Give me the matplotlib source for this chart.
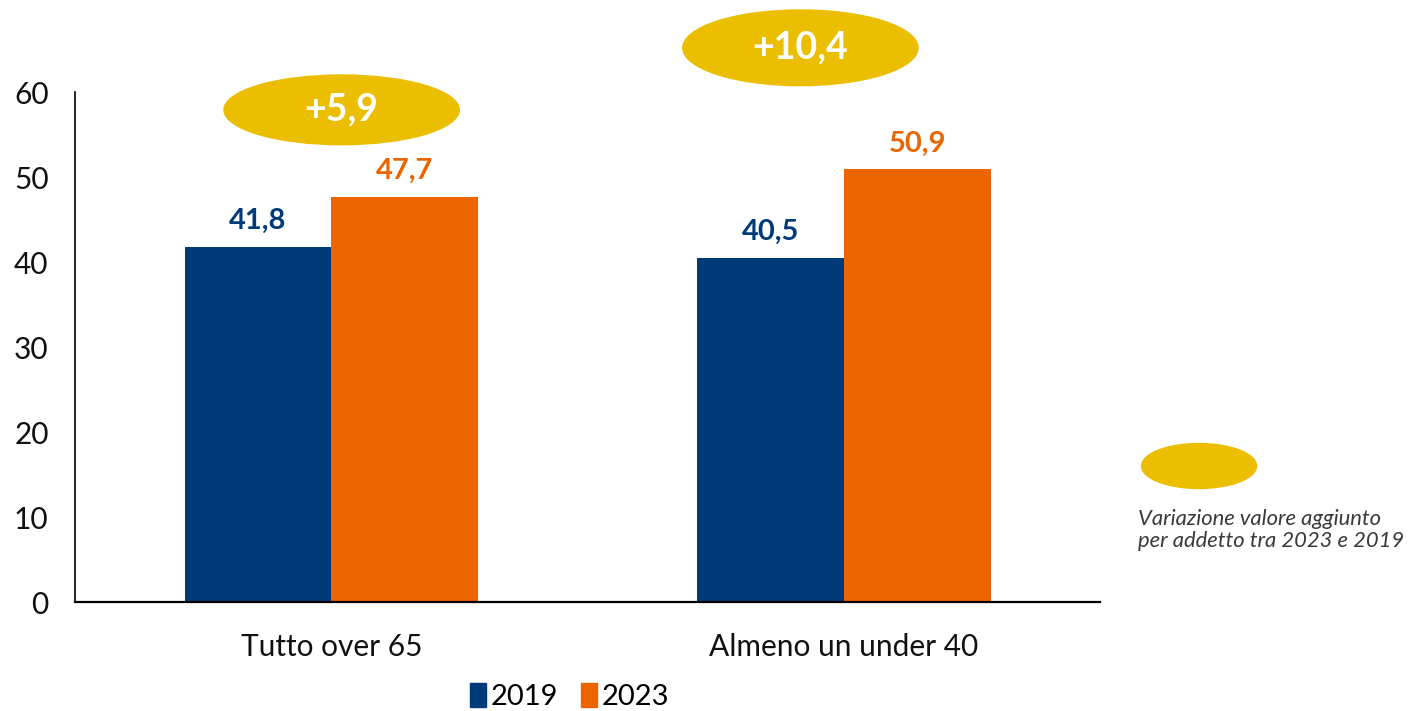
import numpy as np
import matplotlib.pyplot as plt
from matplotlib.patches import Ellipse, Patch

plt.rcParams['font.family'] = ['Lato', 'DejaVu Sans']

categorie = ['Tutto over 65', 'Almeno un under 40']
anni = ['2019', '2023']
val_2019 = [41.8, 40.5]
val_2023 = [47.7, 50.9]
variazioni = ['+5,9', '+10,4']
yticks = [0, 10, 20, 30, 40, 50, 60]

blu = '#003A78'
arancio = '#EC6500'
giallo = '#EBBE00'

fig = plt.figure(figsize=(14.24, 7.11), dpi=100)
ax = fig.add_axes([0.0527, 0.1533, 0.72, 0.7173])

x = np.arange(len(categorie))
w = 0.286
b1 = ax.bar(x - w/2, val_2019, w, color=blu, label=anni[0])
b2 = ax.bar(x + w/2, val_2023, w, color=arancio, label=anni[1])

for xi, v in zip(x - w/2, val_2019):
    ax.text(xi, v + 1.5, ('%.1f' % v).replace('.', ','), ha='center', va='bottom',
            fontsize=21, fontweight='bold', color=blu)
for xi, v in zip(x + w/2, val_2023):
    ax.text(xi, v + 1.5, ('%.1f' % v).replace('.', ','), ha='center', va='bottom',
            fontsize=21, fontweight='bold', color=arancio)

# ellissi con la variazione
pos_ell = [(0.02, 57.9, 8.2), (0.915, 65.2, 8.9)]
for (ex, ey, eh), lab in zip(pos_ell, variazioni):
    e = Ellipse((ex, ey), 0.459, eh, color=giallo, clip_on=False, zorder=3)
    ax.add_patch(e)
    ax.text(ex, ey, lab, ha='center', va='center', fontsize=27, fontweight='bold',
            color='white', zorder=4)

ax.set_xlim(-0.5, 1.5)
ax.set_ylim(0, 60)
ax.set_yticks(yticks)
ax.set_xticks(x)
ax.set_xticklabels(categorie)
ax.tick_params(axis='both', length=0, labelsize=21.5, colors='#111111')
ax.tick_params(axis='x', pad=22)
ax.tick_params(axis='y', pad=19)
for s in ['top', 'right']:
    ax.spines[s].set_visible(False)
ax.spines['left'].set_linewidth(1.2)
ax.spines['bottom'].set_linewidth(1.6)

# legenda anni
handles = [Patch(color=blu, label=anni[0]), Patch(color=arancio, label=anni[1])]
fig.legend(handles=handles, loc='center', bbox_to_anchor=(0.40, 0.02), ncol=2,
           frameon=False, fontsize=21, handlelength=0.55, handleheight=0.9,
           handletextpad=0.15, columnspacing=0.8)

# legenda ellisse
fig.patches.append(Ellipse((1199/1424, 1 - 466/711), 115/1424, 45/711, color=giallo,
                           transform=fig.transFigure, figure=fig))
fig.text(1138/1424, 1 - 519/711, 'Variazione valore aggiunto', fontsize=15.8,
         style='italic', color='#3a3a3a', va='center', ha='left')
fig.text(1138/1424, 1 - 541/711, 'per addetto tra 2023 e 2019', fontsize=15.8,
         style='italic', color='#3a3a3a', va='center', ha='left')

plt.savefig('out.png', dpi=100)
